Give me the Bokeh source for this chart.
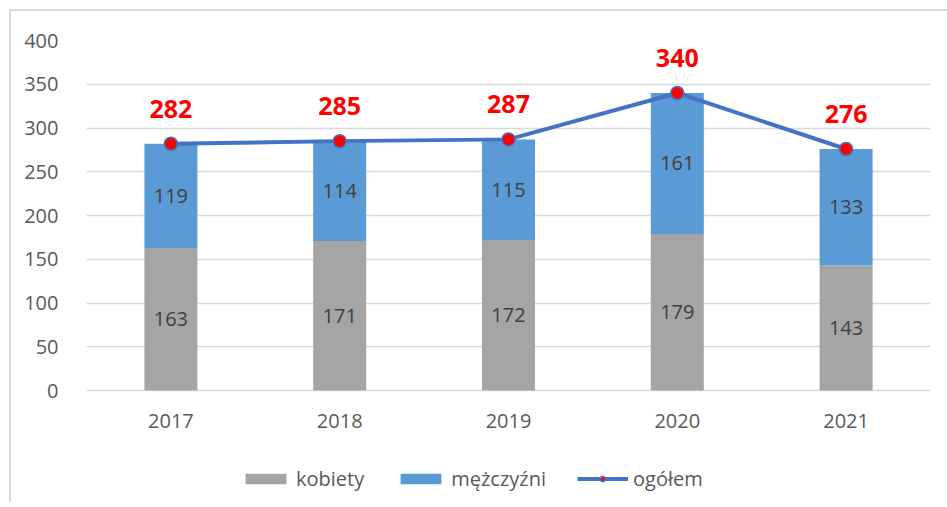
from bokeh.plotting import figure
from bokeh.models import ColumnDataSource, FactorRange, Range1d, LabelSet, Legend, LegendItem, FixedTicker
from bokeh.core.properties import value
from bokeh.embed import file_html
from bokeh.resources import INLINE

years = ["2017", "2018", "2019", "2020", "2021"]
kobiety = [163, 171, 172, 179, 143]
mezczyzni = [119, 114, 115, 161, 133]
ogolem = [282, 285, 287, 340, 276]
y_ticks = [0, 50, 100, 150, 200, 250, 300, 350, 400]

FONT = "Open Sans"
GRAY = "#A5A5A5"
BLUE = "#5B9BD5"
LINE = "#4472C4"
TXT = "#595959"

source = ColumnDataSource(dict(
    years=years,
    kobiety=kobiety,
    mezczyzni=mezczyzni,
    ogolem=ogolem,
    base=[0] * len(years),
    k_mid=[k / 2 for k in kobiety],
    m_mid=[k + m / 2 for k, m in zip(kobiety, mezczyzni)],
    k_txt=[str(v) for v in kobiety],
    m_txt=[str(v) for v in mezczyzni],
    o_txt=[str(v) for v in ogolem],
))

# frame extends below 0 to host the category labels and the legend (0.875 px per unit)
p = figure(frame_width=844, frame_height=462, x_range=FactorRange(*years), y_range=Range1d(-128, 400),
           output_backend="svg", toolbar_location=None,
           min_border_left=75, min_border_right=17, min_border_top=29, min_border_bottom=0)
p.styles = {"margin-left": "9px", "margin-top": "9px",
            "border-left": "2px solid #D9D9D9", "border-top": "2px solid #D9D9D9"}
p.outline_line_color = None
p.background_fill_color = "white"
p.border_fill_color = "white"
p.xaxis.visible = False

bars = p.vbar_stack(["kobiety", "mezczyzni"], x="years", width=0.314,
                    color=[GRAY, BLUE], line_color=None, source=source)
ln = p.line(x="years", y="ogolem", source=source, line_color=LINE, line_width=4)
sc = p.scatter(x="years", y="ogolem", source=source, size=13, fill_color="red",
               line_color=LINE, line_width=1.5)

for col, txt in (("k_mid", "k_txt"), ("m_mid", "m_txt")):
    p.add_layout(LabelSet(x="years", y=col, text=txt, source=source, text_align="center",
                          text_baseline="middle", text_font=value(FONT), text_font_size="20px",
                          text_color="#404040"))
p.add_layout(LabelSet(x="years", y="ogolem", text="o_txt", source=source, text_align="center",
                      text_baseline="middle", y_offset=35, text_font=value(FONT), text_font_size="25px",
                      text_font_style="bold", text_color="red"))
# category (year) labels under the baseline
p.add_layout(LabelSet(x="years", y="base", text="years", source=source, text_align="center",
                      text_baseline="middle", y_offset=-30, text_font=value(FONT), text_font_size="20px",
                      text_color=TXT))

p.ygrid.grid_line_color = "#D9D9D9"
p.ygrid.grid_line_width = 1.5
p.ygrid.ticker = FixedTicker(ticks=y_ticks)
p.xgrid.grid_line_color = None
p.yaxis.ticker = FixedTicker(ticks=y_ticks)
ax = p.yaxis[0]
ax.axis_line_color = None
ax.major_tick_line_color = None
ax.minor_tick_line_color = None
ax.major_label_text_font = FONT
ax.major_label_text_font_size = "20px"
ax.major_label_text_color = TXT
ax.major_label_standoff = 22

legend = Legend(items=[
    LegendItem(label="kobiety", renderers=[bars[0]]),
    LegendItem(label="mężczyźni", renderers=[bars[1]]),
    LegendItem(label="ogółem", renderers=[ln, sc]),
], orientation="horizontal", location=(154, 10), glyph_width=51, glyph_height=13,
    label_standoff=5, spacing=31, border_line_color=None, background_fill_alpha=0,
    label_text_font=FONT, label_text_font_size="20px", label_text_color=TXT, margin=0, padding=4)
p.add_layout(legend, "center")

open("out.html", "w").write(file_html(p, INLINE))
